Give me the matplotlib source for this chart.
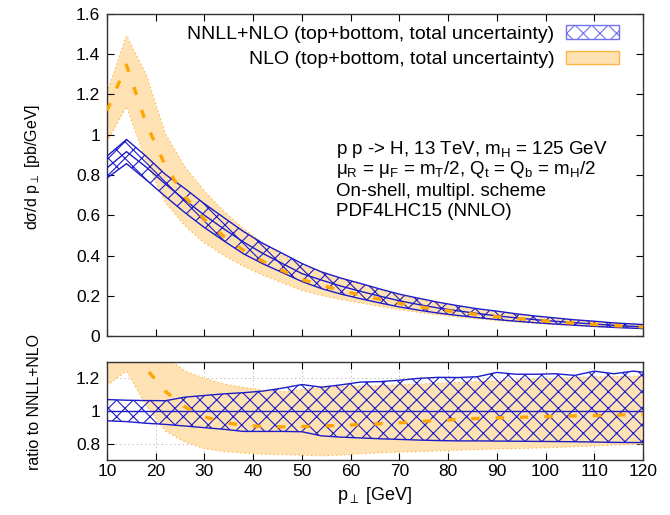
import numpy as np
import matplotlib
matplotlib.use("Agg")
import matplotlib.pyplot as plt
from matplotlib.patches import Patch

plt.rcParams["font.family"] = ["Liberation Sans", "DejaVu Sans"]
plt.rcParams["mathtext.fontset"] = "custom"
plt.rcParams["mathtext.rm"] = "Liberation Sans"
plt.rcParams["mathtext.it"] = "Liberation Sans:italic"
plt.rcParams["mathtext.default"] = "regular"
plt.rcParams["mathtext.fallback"] = "stixsans"
plt.rcParams["hatch.linewidth"] = 0.8
plt.rcParams["lines.scale_dashes"] = False

# transverse momentum grid [GeV]
pt = [10, 14, 18, 22, 26, 30, 34, 38, 42, 46, 50, 54, 58, 62, 66, 70, 74, 78,
      82, 86, 90, 94, 98, 102, 106, 110, 114, 118, 120]

# NNLL+NLO central prediction [pb/GeV]
nnll_central = [0.835, 0.916, 0.84, 0.755, 0.675, 0.60, 0.532, 0.467, 0.41,
                0.36, 0.31, 0.278, 0.248, 0.222, 0.198, 0.175, 0.156, 0.139,
                0.125, 0.112, 0.100, 0.090, 0.081, 0.073, 0.066, 0.059, 0.053,
                0.048, 0.046]
# NNLL+NLO uncertainty band relative to its central value
nnll_rel_up = [1.07, 1.066, 1.064, 1.063, 1.085, 1.095, 1.105, 1.112, 1.122,
               1.14, 1.162, 1.146, 1.16, 1.177, 1.18, 1.188, 1.20, 1.206,
               1.205, 1.21, 1.236, 1.225, 1.225, 1.228, 1.218, 1.244, 1.228,
               1.244, 1.238]
nnll_rel_down = [0.94, 0.935, 0.925, 0.918, 0.908, 0.898, 0.888, 0.875, 0.875,
                 0.875, 0.873, 0.848, 0.84, 0.835, 0.83, 0.826, 0.822, 0.819,
                 0.817, 0.817, 0.816, 0.815, 0.814, 0.813, 0.812, 0.81, 0.808,
                 0.807, 0.807]

# NLO prediction and its band, as ratio to NNLL+NLO central
nlo_ratio = [1.34, 1.47, 1.26, 1.12, 1.025, 0.965, 0.93, 0.912, 0.905, 0.903,
             0.905, 0.908, 0.912, 0.917, 0.922, 0.928, 0.935, 0.943, 0.948,
             0.955, 0.958, 0.961, 0.964, 0.967, 0.970, 0.972, 0.975, 0.977,
             0.978]
nlo_ratio_up = [1.45, 1.63, 1.55, 1.33, 1.245, 1.20, 1.165, 1.145, 1.127,
                1.118, 1.13, 1.146, 1.15, 1.152, 1.155, 1.16, 1.165, 1.17,
                1.175, 1.18, 1.185, 1.19, 1.197, 1.20, 1.205, 1.208, 1.21,
                1.213, 1.215]
nlo_ratio_down = [1.156, 1.245, 1.036, 0.877, 0.81, 0.77, 0.752, 0.742, 0.735,
                  0.733, 0.73, 0.725, 0.73, 0.738, 0.744, 0.748, 0.752, 0.756,
                  0.76, 0.764, 0.767, 0.77, 0.773, 0.776, 0.781, 0.786, 0.791,
                  0.795, 0.797]

x = np.array(pt, dtype=float)
cen = np.array(nnll_central)
r_up, r_dn = np.array(nnll_rel_up), np.array(nnll_rel_down)
q_c, q_up, q_dn = np.array(nlo_ratio), np.array(nlo_ratio_up), np.array(nlo_ratio_down)

BLUE = "#1c1cc8"
ORANGE = "#ffa500"
ORANGE_FILL = "#ffe2b4"
ORANGE_EDGE = "#ffb640"
FS_LEG = 14
FS_INFO = 13.5
FS_TICK = 12.5

W, H = 670, 515
fig = plt.figure(figsize=(W / 100, H / 100), dpi=100)
ax = fig.add_axes([107 / W, 1 - 336 / H, 536 / W, 322 / H])
axr = fig.add_axes([107 / W, 1 - 460 / H, 536 / W, 98 / H])


def draw(a, c, up, dn, nc, nup, ndn):
    a.fill_between(x, ndn, nup, facecolor=ORANGE_FILL, edgecolor="none",
                   linewidth=0, zorder=1)
    a.plot(x, nup, color=ORANGE_EDGE, lw=0.8, ls=(0, (1, 2)), zorder=2)
    a.plot(x, ndn, color=ORANGE_EDGE, lw=0.8, ls=(0, (1, 2)), zorder=2)
    a.fill_between(x, dn, up, facecolor="none", edgecolor=BLUE, hatch="xx",
                   linewidth=0, zorder=3)
    for y in (up, c, dn):
        a.plot(x, y, color=BLUE, lw=1.0, zorder=4)
    a.plot(x, nc, color=ORANGE, lw=2.4, dashes=(6, 11.5), zorder=5)


draw(ax, cen, cen * r_up, cen * r_dn, cen * q_c, cen * q_up, cen * q_dn)
draw(axr, np.ones_like(x), r_up, r_dn, q_c, q_up, q_dn)

xticks = np.arange(10, 121, 10)
for a in (ax, axr):
    a.set_xlim(10, 120)
    a.set_xticks(xticks)
    a.tick_params(direction="in", top=True, right=True, length=5, width=0.8,
                  labelsize=FS_TICK, colors="#000000", pad=5)
    for s in a.spines.values():
        s.set_linewidth(1.0)
        s.set_color("#333333")
    a.yaxis.set_major_formatter(matplotlib.ticker.FormatStrFormatter("%g"))

ax.set_ylim(0, 1.6)
ax.set_yticks(np.arange(0, 1.61, 0.2))
ax.tick_params(labelbottom=False)

axr.set_ylim(0.7, 1.3)
axr.set_yticks([0.8, 1.0, 1.2])
axr.grid(True, color="#b0b0b0", lw=0.6, ls=(0, (1, 2)))
axr.set_axisbelow(True)
axr.tick_params(axis="x", pad=3)
axr.xaxis.set_major_formatter(matplotlib.ticker.FormatStrFormatter("%g"))

ax.set_ylabel(r"d$\sigma$/d p$_\perp$ [pb/GeV]", fontsize=11.5)
axr.set_ylabel("ratio to NNLL+NLO", fontsize=11.5)
axr.set_xlabel(r"p$_\perp$ [GeV]", fontsize=13, labelpad=4)
ax.yaxis.set_label_coords(-0.121, 0.525)
axr.yaxis.set_label_coords(-0.121, 0.59)

handles = [
    Patch(facecolor="white", edgecolor="#7070f0", hatch="xx", lw=1.0),
    Patch(facecolor=ORANGE_FILL, edgecolor=ORANGE_EDGE, lw=1.0),
]
labels = ["NNLL+NLO (top+bottom, total uncertainty)",
          "NLO (top+bottom, total uncertainty)"]
ax.legend(handles, labels, loc="upper right", bbox_to_anchor=(0.956, 0.965),
          frameon=False, markerfirst=False, fontsize=FS_LEG, handlelength=2.75,
          handleheight=0.7, handletextpad=0.6, labelspacing=0.4,
          borderpad=0, borderaxespad=0)

info = [
    r"p p -> H, 13 TeV, m$_H$ = 125 GeV",
    r"$\mu_R$ = $\mu_F$ = m$_T$/2, Q$_t$ = Q$_b$ = m$_H$/2",
    "On-shell, multipl. scheme",
    "PDF4LHC15 (NNLO)",
]
for txt, ypx in zip(info, [149, 170, 191, 211]):
    ax.text((336 - 107) / 536, (336 - ypx) / 322, txt, transform=ax.transAxes,
            fontsize=FS_INFO, va="center", ha="left")

fig.savefig("out.png", dpi=100)
